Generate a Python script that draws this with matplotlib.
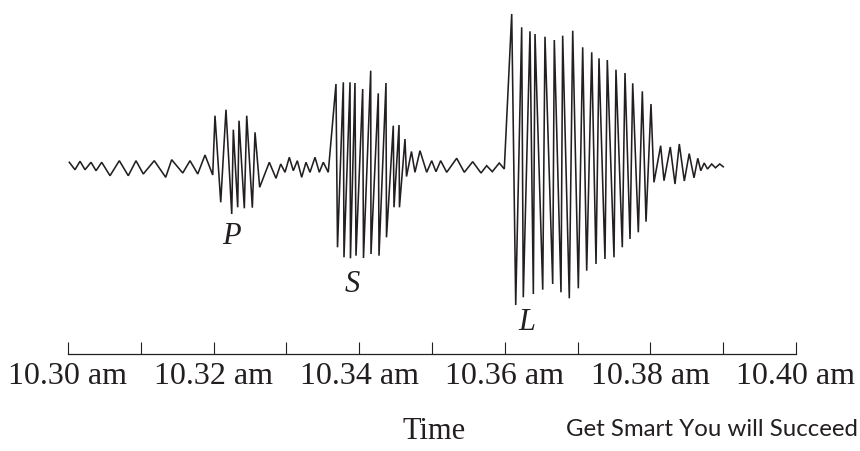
import matplotlib
matplotlib.use("Agg")
import matplotlib.pyplot as plt

# time in minutes after 10.30 am, amplitude in arbitrary units
t_quiet1 = [0.018, 0.096, 0.165, 0.234, 0.316, 0.385, 0.463, 0.577, 0.705, 0.828,
            0.934, 1.034, 1.185, 1.342, 1.424, 1.576, 1.676, 1.782, 1.882, 1.988]
a_quiet1 = [1.7, -5.7, 2.7, -5.7, 1.7, -6.7, 1.7, -11.7, 3.3, -11.7,
            3.3, -10, 3.3, -13.3, 4.3, -9, 3.3, -10, 9, -11]

t_p = [2.019, 2.098, 2.170, 2.249, 2.271, 2.331, 2.349, 2.422, 2.455, 2.532, 2.569, 2.633]
a_p = [48.3, -38.3, 54.3, -50, 34.3, -43.3, 43.3, -44.3, 48.3, -43.7, 31.7, -23.3]

t_quiet2 = [2.765, 2.857, 2.922, 2.981, 3.040, 3.095, 3.150, 3.210, 3.269, 3.324,
            3.393, 3.452, 3.507, 3.575]
a_quiet2 = [1.7, -14.3, 0, -8.3, 6.7, -6.7, 3.3, -13.3, 1.7, -8.3, 6.7, -8.3, 1.7, -8.3]

t_s = [3.681, 3.702, 3.782, 3.791, 3.874, 3.880, 3.942, 3.956, 4.048, 4.059, 4.158,
       4.162, 4.262, 4.272, 4.368, 4.375, 4.468, 4.478, 4.547, 4.553, 4.629, 4.650]
a_s = [80, -83.3, 81.7, -93.3, 81.7, -94.3, 81, -91.7, 75, -94, 93.3,
       -90, 70.7, -91.7, 81, -73.3, 38.3, -43.3, 39, -43.3, 25, -12.5]

t_quiet3 = [4.718, 4.766, 4.835, 4.927, 4.996, 5.055, 5.119, 5.202, 5.339, 5.444,
            5.559, 5.673, 5.751, 5.828, 5.924, 5.993]
a_quiet3 = [12.5, -8.3, 13.3, -8.3, 3.3, -7.7, 3.3, -8.3, 5.7, -8.3,
            2.3, -9, -1.7, -7.7, 1, -5]

t_l = [6.095, 6.150, 6.232, 6.254, 6.346, 6.392, 6.415, 6.521, 6.552, 6.658, 6.680,
       6.772, 6.795, 6.886, 6.933, 7.010, 7.070, 7.125, 7.194, 7.253, 7.294, 7.376,
       7.408, 7.500, 7.527, 7.614, 7.651, 7.720, 7.757, 7.834, 7.889, 7.940, 8.008, 8.049]
a_l = [150, -141, 136.7, -133.3, 132.7, -130, 130, -125.7, 127.3, -120, 124,
       -128.3, 128.3, -134.3, 133.3, -124.3, 116.7, -106.7, 111.7, -100, 105.7, -95,
       104, -93.3, 94.3, -83.3, 91, -75, 80.7, -68.3, 72.7, -57.7, 60, -18.3]

t_tail = [8.141, 8.187, 8.273, 8.338, 8.397, 8.466, 8.533, 8.599, 8.651, 8.692,
          8.739, 8.784, 8.842, 8.894, 8.952, 9.001]
a_tail = [18.3, -16.7, 17, -20, 20, -17, 10.4, -13.8, 5.7, -6.7,
          1, -5, 0, -3.8, 0, -2.8]

wave_labels = ['P', 'S', 'L']
wave_label_t = [2.239, 3.901, 6.305]
wave_label_a = [-72, -120, -158]

tick_pos = [0, 2, 4, 6, 8, 10]
tick_labels = ['10.30 am', '10.32 am', '10.34 am', '10.36 am', '10.38 am', '10.40 am']
minor_pos = [1, 3, 5, 7, 9]

t_all = t_quiet1 + t_p + t_quiet2 + t_s + t_quiet3 + t_l + t_tail
a_all = a_quiet1 + a_p + a_quiet2 + a_s + a_quiet3 + a_l + a_tail

ink = '#231f20'
fig = plt.figure(figsize=(8.6, 4.52), dpi=100)
ax = fig.add_axes([0, 0, 1, 1])
ax.plot(t_all, a_all, color=ink, lw=1.15, solid_joinstyle='miter')

ax.set_xlim(-68 / 72.8, 792 / 72.8)
ax.set_ylim(-287, 165)

for name, tx, ay in zip(wave_labels, wave_label_t, wave_label_a):
    ax.text(tx, ay, name, family='Liberation Serif', style='italic', fontsize=22,
            ha='center', va='center', color=ink)

for side in ['top', 'left', 'right']:
    ax.spines[side].set_visible(False)
ax.spines['bottom'].set_position(('data', -190))
ax.spines['bottom'].set_bounds(0, 10)
ax.spines['bottom'].set_color(ink)
ax.spines['bottom'].set_linewidth(0.9)
ax.set_yticks([])
ax.set_xticks(tick_pos)
ax.set_xticklabels(tick_labels, family='Liberation Serif', fontsize=23, color=ink)
ax.set_xticks(minor_pos, minor=True)
ax.tick_params(axis='x', which='both', direction='in', length=9, width=0.8,
               color=ink, pad=5)

fig.text(434 / 860, 1 - 432 / 452, 'Time', family='Liberation Serif', fontsize=22,
         ha='center', va='center', color=ink)
fig.text(858 / 860, 1 - 430 / 452, 'Get Smart You will Succeed', family='Lato',
         fontsize=17.3, ha='right', va='center', color=ink)

fig.savefig('out.png', dpi=100)
